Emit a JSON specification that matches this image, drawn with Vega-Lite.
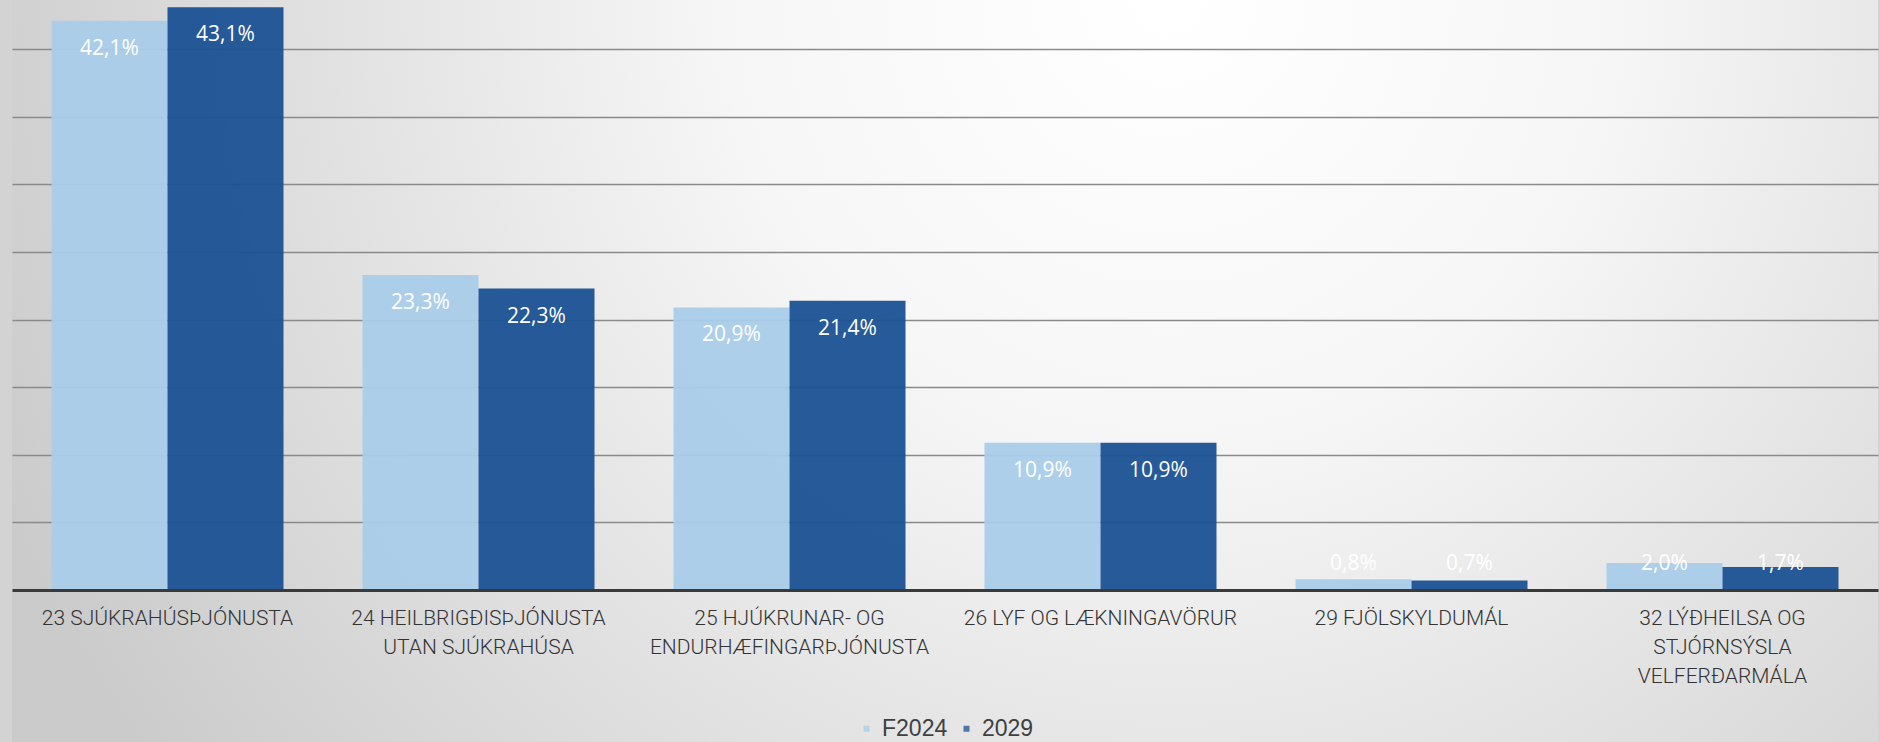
{
  "$schema": "https://vega.github.io/schema/vega-lite/v6.json",
  "width": 1866,
  "height": 742,
  "autosize": "none",
  "padding": {"left": 12, "top": 0, "right": 2, "bottom": 0},
  "background": "#d3d3d3",
  "config": {
    "view": {
      "stroke": null,
      "fill": {
        "gradient": "radial",
        "x1": 0.62, "y1": 0.3, "r1": 0,
        "x2": 0.62, "y2": 0.3, "r2": 0.68,
        "stops": [
          {"offset": 0, "color": "#ffffff"},
          {"offset": 0.35, "color": "#f6f6f6"},
          {"offset": 1, "color": "#cbcbcb"}
        ]
      }
    },
    "locale": {
      "number": {"decimal": ",", "thousands": ".", "grouping": [3], "currency": ["", " kr."]}
    }
  },
  "data": {
    "values": [
      {"category": "23 SJÚKRAHÚSÞJÓNUSTA", "series": "F2024", "value": 0.421},
      {"category": "23 SJÚKRAHÚSÞJÓNUSTA", "series": "2029", "value": 0.431},
      {"category": "24 HEILBRIGÐISÞJÓNUSTA|UTAN SJÚKRAHÚSA", "series": "F2024", "value": 0.233},
      {"category": "24 HEILBRIGÐISÞJÓNUSTA|UTAN SJÚKRAHÚSA", "series": "2029", "value": 0.223},
      {"category": "25 HJÚKRUNAR- OG|ENDURHÆFINGARÞJÓNUSTA", "series": "F2024", "value": 0.209},
      {"category": "25 HJÚKRUNAR- OG|ENDURHÆFINGARÞJÓNUSTA", "series": "2029", "value": 0.214},
      {"category": "26 LYF OG LÆKNINGAVÖRUR", "series": "F2024", "value": 0.109},
      {"category": "26 LYF OG LÆKNINGAVÖRUR", "series": "2029", "value": 0.109},
      {"category": "29 FJÖLSKYLDUMÁL", "series": "F2024", "value": 0.008},
      {"category": "29 FJÖLSKYLDUMÁL", "series": "2029", "value": 0.007},
      {"category": "32 LÝÐHEILSA OG|STJÓRNSÝSLA|VELFERÐARMÁLA", "series": "F2024", "value": 0.020},
      {"category": "32 LÝÐHEILSA OG|STJÓRNSÝSLA|VELFERÐARMÁLA", "series": "2029", "value": 0.017}
    ]
  },
  "encoding": {
    "x": {
      "field": "category",
      "type": "nominal",
      "sort": null,
      "scale": {"paddingInner": 0.254, "paddingOuter": 0.127},
      "axis": {
        "title": null,
        "orient": "bottom",
        "offset": -152,
        "labelExpr": "split(datum.label, '|')",
        "labelFont": "Roboto",
        "labelFontWeight": 300,
        "labelFontSize": 21,
        "labelColor": "#333333",
        "labelLineHeight": 29,
        "labelPadding": 17,
        "labelAngle": 0,
        "labelLimit": 500,
        "ticks": false,
        "domainColor": "#3a3a3a",
        "domainWidth": 3,
        "zindex": 1
      }
    },
    "xOffset": {"field": "series", "type": "nominal", "sort": ["F2024", "2029"]}
  },
  "layer": [
    {
      "mark": {"type": "bar", "opacity": 0.95},
      "encoding": {
        "y": {
          "field": "value",
          "type": "quantitative",
          "scale": {"domain": [-0.1124, 0.4364], "nice": false},
          "axis": {
            "title": null,
            "domain": false,
            "ticks": false,
            "labels": false,
            "grid": true,
            "values": [0.05, 0.1, 0.15, 0.2, 0.25, 0.3, 0.35, 0.4],
            "gridColor": "#8a8a8a",
            "gridWidth": 1.5
          }
        },
        "color": {
          "field": "series",
          "type": "nominal",
          "sort": ["F2024", "2029"],
          "scale": {"domain": ["F2024", "2029"], "range": ["#a9cce9", "#1b5193"]},
          "legend": {
            "orient": "none",
            "legendX": 843,
            "legendY": 717,
            "direction": "horizontal",
            "title": null,
            "symbolType": "square",
            "symbolSize": 36,
            "symbolStrokeWidth": 0,
            "symbolOpacity": 0.75,
            "labelFont": "Liberation Sans",
            "labelFontSize": 23,
            "labelColor": "#404040",
            "labelOffset": 4,
            "columnPadding": 7,
            "padding": 0
          }
        }
      }
    },
    {
      "transform": [{"filter": "datum.value >= 0.05"}],
      "mark": {"type": "text", "dy": 28, "color": "#ffffff", "font": "Open Sans", "fontSize": 21, "baseline": "middle"},
      "encoding": {
        "y": {"field": "value", "type": "quantitative"},
        "text": {"field": "value", "type": "quantitative", "format": ".1%"}
      }
    },
    {
      "transform": [{"filter": "datum.value < 0.05"}],
      "mark": {"type": "text", "dy": -26.5, "color": "#ffffff", "font": "Open Sans", "fontSize": 21, "baseline": "middle"},
      "encoding": {
        "y": {"datum": 0, "type": "quantitative"},
        "text": {"field": "value", "type": "quantitative", "format": ".1%"}
      }
    }
  ]
}
